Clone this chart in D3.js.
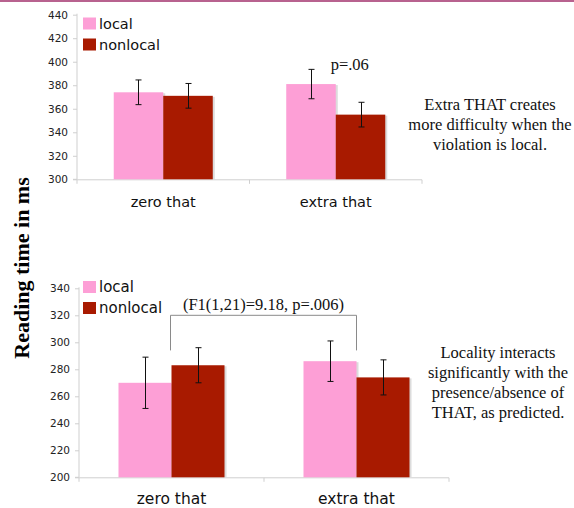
<!DOCTYPE html>
<html>
<head>
<meta charset="utf-8">
<script src="https://cdn.jsdelivr.net/npm/d3@7"></script>
<style>
  body { margin: 0; background: #fff; }
  .sans { font-family: "DejaVu Sans", Verdana, sans-serif; }
  .serif { font-family: "Liberation Serif", "Times New Roman", serif; }
</style>
</head>
<body>
<svg id="chart" width="574" height="508"></svg>
<script>
// values
var categories = ["zero that", "extra that"];
var series = ["local", "nonlocal"];
var colors = ["#fd9fd6", "#a81a00"];

var topMeans = [[374, 371], [381, 355]];
var topErrors = [[10.5, 10.5], [12.5, 10.5]];
var topTicks = [300, 320, 340, 360, 380, 400, 420, 440];

var botMeans = [[270, 283], [286, 274]];
var botErrors = [[19, 13], [15, 13]];
var botTicks = [200, 220, 240, 260, 280, 300, 320, 340];

var topNote = ["Extra THAT creates", "more difficulty when the", "violation is local."];
var botNote = ["Locality interacts", "significantly with the", "presence/absence of", "THAT, as predicted."];

var svg = d3.select("#chart");

// thin border at the very top of the slide
svg.append("rect")
  .attr("x", 0).attr("y", 0).attr("width", 574).attr("height", 2)
  .attr("fill", "#b8628f");

svg.append("text")
  .attr("class", "serif")
  .attr("transform", "translate(29,268) rotate(-90)")
  .attr("text-anchor", "middle")
  .style("font-size", "22px")
  .style("font-weight", "bold")
  .text("Reading time in ms");

function drawPanel(opt) {
  var g = svg.append("g");

  var y = d3.scaleLinear().domain(opt.domain).range([opt.bottom, opt.top]);
  var x0 = d3.scaleBand().domain(categories).range([opt.left, opt.right]);
  var x1 = d3.scaleBand().domain(series).range([0, x0.bandwidth()]).paddingOuter(opt.pad);

  // y axis
  var yAxis = d3.axisLeft(y).tickValues(opt.ticks).tickSize(4).tickPadding(5);
  var ya = g.append("g").attr("transform", "translate(" + opt.left + ",0)").call(yAxis);
  ya.select(".domain").attr("stroke", "#cfcfcf").attr("d", "M-4," + opt.bottom + "H0V" + (opt.top - 1));
  ya.selectAll(".tick line").attr("stroke", "#cfcfcf");
  ya.selectAll(".tick text").attr("class", "sans").style("font-size", "10.5px").attr("fill", "#222");

  // x axis line with category dividers
  var base = y(opt.domain[0]) + 0.5;
  g.append("line")
    .attr("x1", opt.left).attr("x2", opt.right).attr("y1", base).attr("y2", base)
    .attr("stroke", "#cfcfcf");
  var edges = categories.map(function(c) { return x0(c); }).concat([opt.right]);
  g.selectAll(".xdiv").data(edges).enter().append("line")
    .attr("x1", function(d) { return d; }).attr("x2", function(d) { return d; })
    .attr("y1", base).attr("y2", base + 4)
    .attr("stroke", "#cfcfcf");

  g.selectAll(".cat").data(categories).enter().append("text")
    .attr("class", "sans")
    .attr("x", function(d) { return x0(d) + x0.bandwidth() / 2; })
    .attr("y", opt.catY)
    .attr("text-anchor", "middle")
    .style("font-size", opt.catSize)
    .attr("fill", "#111")
    .text(function(d) { return d; });

  categories.forEach(function(cat, ci) {
    series.forEach(function(s, si) {
      var v = opt.means[ci][si], e = opt.errors[ci][si];
      var bx = x0(cat) + x1(s), bw = x1.bandwidth();
      // faint drop shadow
      g.append("rect")
        .attr("x", bx + 2).attr("y", y(v) + 1).attr("width", bw).attr("height", y(opt.domain[0]) - y(v) - 1)
        .attr("fill", "#dcdcdc");
      g.append("rect")
        .attr("x", bx).attr("y", y(v)).attr("width", bw).attr("height", y(opt.domain[0]) - y(v))
        .attr("fill", colors[si]);
      var cx = Math.round(bx + bw / 2) + 0.5;
      g.append("path")
        .attr("d", "M" + (cx - 3) + "," + y(v + e) + "H" + (cx + 3) +
                   "M" + cx + "," + y(v + e) + "V" + y(v - e) +
                   "M" + (cx - 3) + "," + y(v - e) + "H" + (cx + 3))
        .attr("stroke", "#111").attr("fill", "none").attr("stroke-width", 1);
    });
  });

  // legend
  series.forEach(function(s, si) {
    g.append("rect")
      .attr("x", 83).attr("y", opt.legY + si * 21).attr("width", 13).attr("height", 12)
      .attr("fill", colors[si]);
    g.append("text")
      .attr("class", "sans")
      .attr("x", 99).attr("y", opt.legY + si * 21 + 11)
      .style("font-size", opt.legSize)
      .attr("fill", "#111")
      .text(s);
  });

  // side note
  g.selectAll(".note").data(opt.note).enter().append("text")
    .attr("class", "serif")
    .attr("x", opt.noteX)
    .attr("y", function(d, i) { return opt.noteY + i * 20; })
    .attr("text-anchor", "middle")
    .style("font-size", "16.5px")
    .attr("fill", "#111")
    .text(function(d) { return d; });

  return { x0: x0, y: y };
}

var p1 = drawPanel({
  domain: [300, 440], ticks: topTicks, means: topMeans, errors: topErrors,
  top: 14.7, bottom: 179.3, left: 77, right: 422, pad: 0.742,
  catY: 207, catSize: "14.5px", legY: 17.5, legSize: "14.5px",
  note: topNote, noteX: 490, noteY: 110
});

svg.append("text")
  .attr("class", "serif")
  .attr("x", p1.x0("extra that") + p1.x0.bandwidth() / 2 + 14)
  .attr("y", 70)
  .attr("text-anchor", "middle")
  .style("font-size", "16.5px")
  .attr("fill", "#111")
  .text("p=.06");

var p2 = drawPanel({
  domain: [200, 340], ticks: botTicks, means: botMeans, errors: botErrors,
  top: 288.3, bottom: 477.3, left: 79, right: 449, pad: 0.745,
  catY: 504, catSize: "15.5px", legY: 281, legSize: "15px",
  note: botNote, noteX: 498, noteY: 358
});

// interaction bracket between the two groups
var bTop = 320, bBottom = 294;
var bl = Math.round(p2.x0("zero that") + p2.x0.bandwidth() / 2 - 2) + 0.5;
var br = Math.round(p2.x0("extra that") + p2.x0.bandwidth() / 2 - 1) + 0.5;
svg.append("path")
  .attr("d", "M" + bl + "," + p2.y(bBottom) + "V" + p2.y(bTop) + "H" + br + "V" + p2.y(bBottom))
  .attr("stroke", "#8a8a8a").attr("fill", "none");
svg.append("text")
  .attr("class", "serif")
  .attr("x", (bl + br) / 2)
  .attr("y", p2.y(bTop) - 5)
  .attr("text-anchor", "middle")
  .style("font-size", "16.5px")
  .attr("fill", "#111")
  .text("(F1(1,21)=9.18, p=.006)");
</script>
</body>
</html>
